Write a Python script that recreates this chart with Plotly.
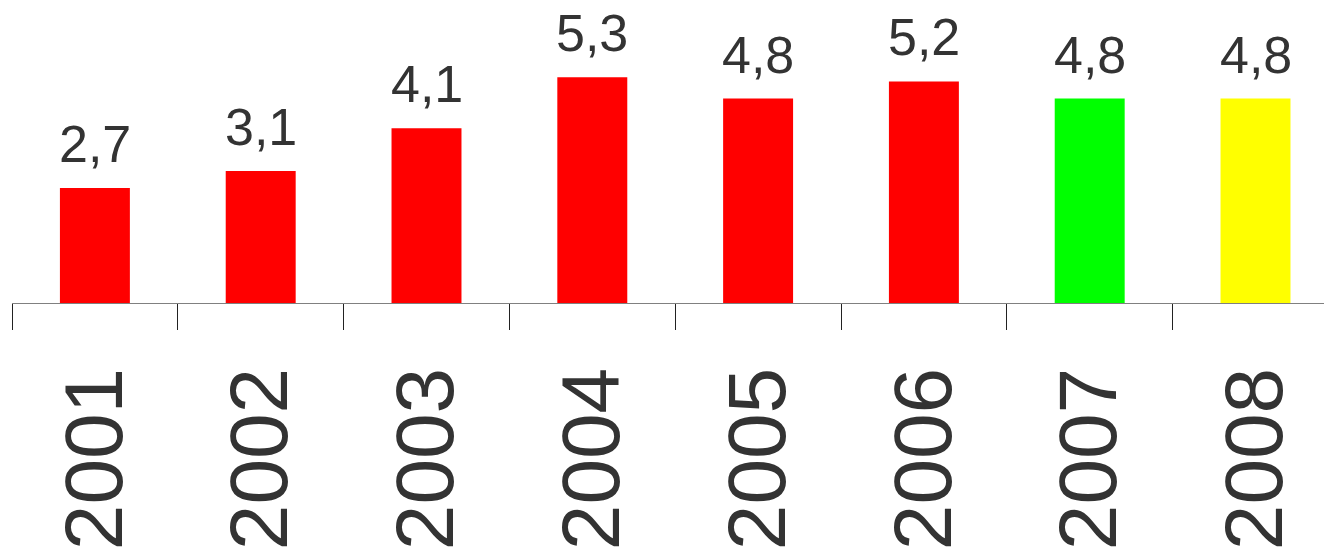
import plotly.graph_objects as go

years = ["2001", "2002", "2003", "2004", "2005", "2006", "2007", "2008"]
values = [2.7, 3.1, 4.1, 5.3, 4.8, 5.2, 4.8, 4.8]
labels = ["2,7", "3,1", "4,1", "5,3", "4,8", "5,2", "4,8", "4,8"]
colors = ["#ff0000", "#ff0000", "#ff0000", "#ff0000", "#ff0000", "#ff0000", "#00ff00", "#ffff00"]

FONT = "Liberation Sans, Arial, sans-serif"

fig = go.Figure(go.Bar(
    x=years, y=values, marker=dict(color=colors, line=dict(width=0)),
    width=0.422, hoverinfo="skip",
))

for i, (v, t) in enumerate(zip(values, labels)):
    fig.add_annotation(x=i, y=v, xref="x", yref="y", text=t, showarrow=False,
                       yanchor="bottom", yshift=13,
                       font=dict(family=FONT, size=52, color="#333333"))

fig.update_layout(
    width=1324, height=552,
    margin=dict(l=12, r=0, t=0, b=249),
    paper_bgcolor="white", plot_bgcolor="white",
    showlegend=False,
    xaxis=dict(
        type="category", range=[-0.5, -0.5 + 1312 / 165.8],
        showline=True, linecolor="#808080", linewidth=1,
        ticks="outside", ticklen=26, tickcolor="#222222", tickwidth=1,
        tickson="boundaries", tickangle=-90,
        tickfont=dict(family=FONT, size=82, color="#333333"),
        ticklabelstandoff=31,
        showgrid=False, zeroline=False,
    ),
    yaxis=dict(visible=False, range=[0, 303 / 42.6]),
)

fig.write_html("out.html")
